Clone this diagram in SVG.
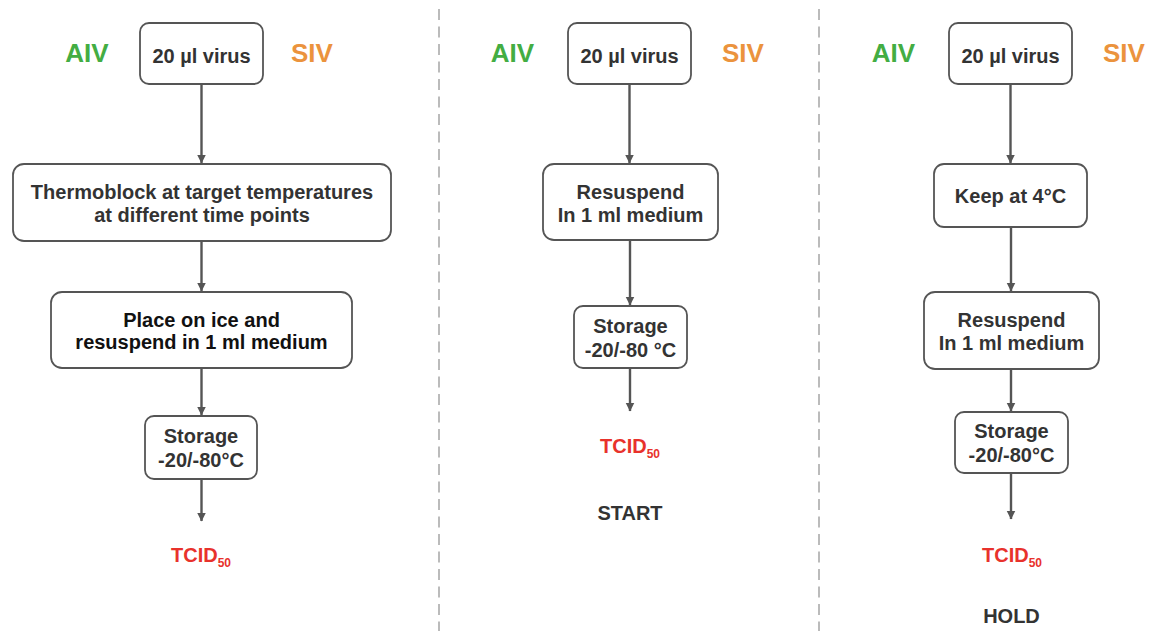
<svg xmlns="http://www.w3.org/2000/svg" width="1154" height="631" viewBox="0 0 1154 631">
  <defs>
    <marker id="arrow" viewBox="0 0 9 10" refX="8.5" refY="5" markerWidth="9" markerHeight="10" markerUnits="userSpaceOnUse" orient="auto">
      <path d="M0,0.5 L9,5 L0,9.5 Z" fill="#555"/>
    </marker>
    <style>
      text { font-family: "Liberation Sans", Arial, Helvetica, sans-serif; font-weight: bold; }
      .box { fill: #fff; stroke: #555; stroke-width: 1.8; }
      .lbl { font-size: 20px; fill: #333; text-anchor: middle; }
      .dark { fill: #111; }
      .aiv { font-size: 26px; fill: #43ad43; text-anchor: middle; }
      .siv { font-size: 26px; fill: #eb933d; text-anchor: middle; }
      .tcid { font-size: 20px; fill: #e8322c; }
      .sub { font-size: 12px; }
      .conn { stroke: #555; stroke-width: 2.4; fill: none; marker-end: url(#arrow); }
      .divider { stroke: #bbb; stroke-width: 2; stroke-dasharray: 11 6.5; }
    </style>
  </defs>
  <rect width="1154" height="631" fill="#fff"/>

  <!-- column dividers -->
  <g id="dividers">
    <line class="divider" x1="439" y1="9" x2="439" y2="631"/>
    <line class="divider" x1="819" y1="9" x2="819" y2="631"/>
  </g>

  <!-- connectors -->
  <g id="connectors">
    <line class="conn" x1="201.5" y1="84" x2="201.5" y2="163"/>
    <line class="conn" x1="201.5" y1="241" x2="201.5" y2="291"/>
    <line class="conn" x1="201.5" y1="368" x2="201.5" y2="415"/>
    <line class="conn" x1="201.5" y1="479" x2="201.5" y2="521"/>

    <line class="conn" x1="629.5" y1="84" x2="629.5" y2="163"/>
    <line class="conn" x1="630" y1="241" x2="630" y2="305"/>
    <line class="conn" x1="630" y1="368" x2="630" y2="411"/>

    <line class="conn" x1="1010.5" y1="84" x2="1010.5" y2="163"/>
    <line class="conn" x1="1011" y1="227" x2="1011" y2="291"/>
    <line class="conn" x1="1011" y1="369" x2="1011" y2="411"/>
    <line class="conn" x1="1011" y1="473" x2="1011" y2="519"/>
  </g>

  <!-- column 1: thermoblock -->
  <g id="c1-header">
    <text class="aiv" x="87" y="62">AIV</text>
    <text class="siv" x="312" y="62">SIV</text>
  </g>
  <g id="c1-virus">
    <rect class="box" x="140" y="23" width="123" height="61" rx="9"/>
    <text class="lbl" x="201.5" y="63">20 µl virus</text>
  </g>
  <g id="c1-thermoblock">
    <rect class="box" x="13" y="164" width="378" height="77" rx="11"/>
    <text class="lbl" x="202" y="199">Thermoblock at target temperatures</text>
    <text class="lbl" x="202" y="222">at different time points</text>
  </g>
  <g id="c1-ice">
    <rect class="box" x="51" y="292" width="301" height="76" rx="11"/>
    <text class="lbl dark" x="201.5" y="327">Place on ice and</text>
    <text class="lbl dark" x="201.5" y="349">resuspend in 1 ml medium</text>
  </g>
  <g id="c1-storage">
    <rect class="box" x="145" y="416" width="112" height="63" rx="9"/>
    <text class="lbl" x="201" y="443">Storage</text>
    <text class="lbl" x="201" y="467">-20/-80°C</text>
  </g>
  <g id="c1-tcid">
    <text class="tcid" x="171" y="562">TCID<tspan class="sub" dy="5">50</tspan></text>
  </g>

  <!-- column 2: start -->
  <g id="c2-header">
    <text class="aiv" x="512.5" y="62">AIV</text>
    <text class="siv" x="743" y="62">SIV</text>
  </g>
  <g id="c2-virus">
    <rect class="box" x="568" y="23" width="123" height="61" rx="9"/>
    <text class="lbl" x="629.5" y="63">20 µl virus</text>
  </g>
  <g id="c2-resuspend">
    <rect class="box" x="543" y="164" width="175" height="76" rx="11"/>
    <text class="lbl" x="630.5" y="199">Resuspend</text>
    <text class="lbl" x="630.5" y="222">In 1 ml medium</text>
  </g>
  <g id="c2-storage">
    <rect class="box" x="574" y="306" width="113" height="62" rx="9"/>
    <text class="lbl" x="630.5" y="333">Storage</text>
    <text class="lbl" x="630.5" y="357">-20/-80 °C</text>
  </g>
  <g id="c2-tcid">
    <text class="tcid" x="600" y="453">TCID<tspan class="sub" dy="5">50</tspan></text>
  </g>
  <g id="c2-start">
    <text class="lbl" x="630" y="520">START</text>
  </g>

  <!-- column 3: hold -->
  <g id="c3-header">
    <text class="aiv" x="893.5" y="62">AIV</text>
    <text class="siv" x="1124" y="62">SIV</text>
  </g>
  <g id="c3-virus">
    <rect class="box" x="949" y="23" width="123" height="61" rx="9"/>
    <text class="lbl" x="1010.5" y="63">20 µl virus</text>
  </g>
  <g id="c3-keep">
    <rect class="box" x="934" y="164" width="153" height="63" rx="10"/>
    <text class="lbl" x="1010.5" y="203">Keep at 4°C</text>
  </g>
  <g id="c3-resuspend">
    <rect class="box" x="924" y="292" width="175" height="77" rx="11"/>
    <text class="lbl" x="1011.5" y="327">Resuspend</text>
    <text class="lbl" x="1011.5" y="350">In 1 ml medium</text>
  </g>
  <g id="c3-storage">
    <rect class="box" x="955" y="412" width="113" height="61" rx="9"/>
    <text class="lbl" x="1011.5" y="438">Storage</text>
    <text class="lbl" x="1011.5" y="462">-20/-80°C</text>
  </g>
  <g id="c3-tcid">
    <text class="tcid" x="982" y="562">TCID<tspan class="sub" dy="5">50</tspan></text>
  </g>
  <g id="c3-hold">
    <text class="lbl" x="1011.5" y="623">HOLD</text>
  </g>
</svg>
